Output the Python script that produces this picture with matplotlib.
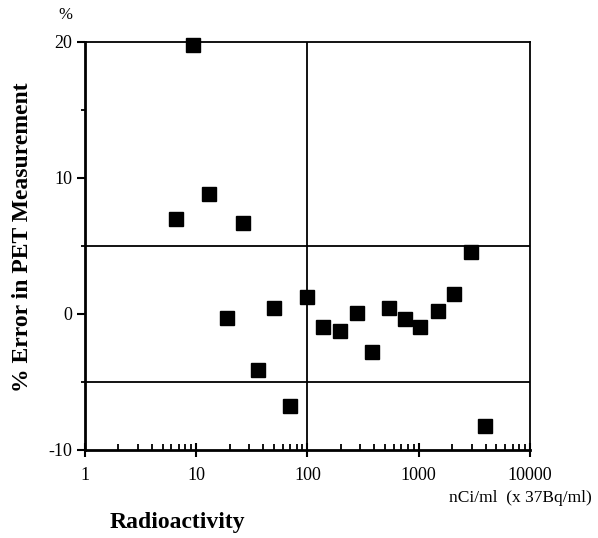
import numpy as np
import matplotlib.pyplot as plt
from matplotlib.ticker import FixedLocator, LogLocator, NullFormatter

plt.rcParams['font.family'] = ['Liberation Serif', 'DejaVu Serif']
plt.rcParams['axes.unicode_minus'] = False

# radioactivity (nCi/ml) and % error
activity = [6.6, 9.35, 13.0, 18.8, 26.3, 36.1, 49.6, 69.6, 98.4, 137,
            196, 277, 383, 540, 752, 1026, 1479, 2089, 2950, 3990]
error_pct = [7.0, 19.8, 8.8, -0.27, 6.7, -4.1, 0.46, -6.8, 1.22, -0.93,
             -1.22, 0.05, -2.77, 0.42, -0.39, -0.93, 0.22, 1.47, 4.56, -8.2]

y_major = [-10, 0, 10, 20]
y_minor = [-5, 5, 15]
x_major = [1, 10, 100, 1000, 10000]
x_major_labels = ['1', '10', '100', '1000', '10000']

fig = plt.figure(figsize=(5.98, 5.38), dpi=100)
ax = fig.add_axes([0.142, 0.1636, 0.744, 0.7584])

ax.set_xscale('log')
ax.set_xlim(1, 10000)
ax.set_ylim(-10, 20)

# reference lines
ax.axhline(5, color='black', lw=1.3)
ax.axhline(-5, color='black', lw=1.3)
ax.axvline(100, color='black', lw=1.3)

ax.plot(activity, error_pct, linestyle='none', marker='s', markersize=9.5,
        color='black', clip_on=False, zorder=5)

for side in ['left', 'bottom']:
    ax.spines[side].set_linewidth(2)
for side in ['top', 'right']:
    ax.spines[side].set_linewidth(1.3)

ax.xaxis.set_major_locator(FixedLocator(x_major))
ax.set_xticklabels(x_major_labels)
ax.xaxis.set_minor_locator(LogLocator(base=10, subs=np.arange(2, 10)))
ax.xaxis.set_minor_formatter(NullFormatter())
ax.tick_params(axis='x', which='major', direction='inout', length=10, width=1.5,
               labelsize=13, pad=7)
ax.tick_params(axis='x', which='minor', direction='in', length=4, width=1.3)

ax.yaxis.set_major_locator(FixedLocator(y_major))
ax.yaxis.set_minor_locator(FixedLocator(y_minor))
ax.tick_params(axis='y', which='major', direction='out', length=6, width=1.5,
               labelsize=13, pad=3)
ax.tick_params(axis='y', which='minor', direction='out', length=3, width=1.3)

fig.text(0.296, 0.028, 'Radioactivity', fontsize=17, fontweight='bold',
         ha='center', va='center')
fig.text(0.037, 0.56, '% Error in PET Measurement', fontsize=17, fontweight='bold',
         ha='center', va='center', rotation=90)

fig.text(0.11, 0.972, '%', fontsize=12, ha='center', va='center')
fig.text(0.871, 0.074, 'nCi/ml  (x 37Bq/ml)', fontsize=12.5, ha='center', va='center')

fig.savefig('out.png', dpi=100)
